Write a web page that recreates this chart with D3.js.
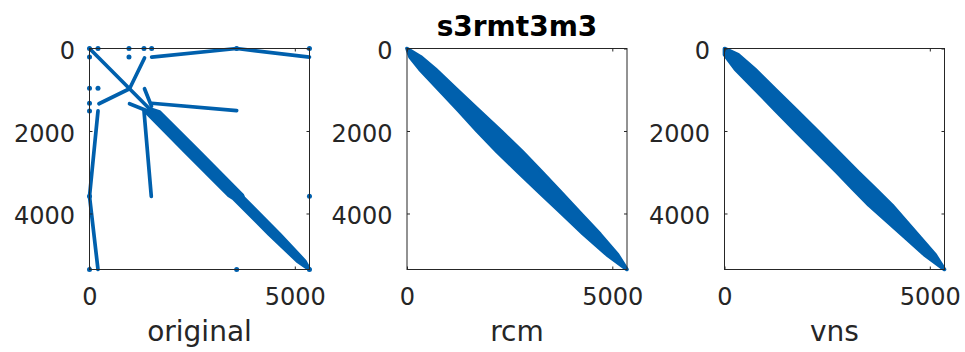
<!DOCTYPE html>
<html><head><meta charset="utf-8">
<script src="https://cdn.jsdelivr.net/npm/d3@7"></script>
<style>
body{margin:0;background:#fff}
svg{display:block}
</style>
</head><body>
<svg id="c" width="965" height="352"></svg>
<script>
// ---------------- data ----------------
const matrixName = "s3rmt3m3";
const matrixSize = 5357;
const panelNames = ["original", "rcm", "vns"];
const xTickValues = [0, 5000];
const yTickValues = [0, 2000, 4000];

// original ordering: main diagonal band (row, half-width in columns)
const origBandRows = [0, 1460, 1540, 2500, 3560, 3620, 4500, 5150, 5357];
const origBandHalf = [0, 0, 165, 170, 165, 130, 125, 90, 0];
// original ordering: off-diagonal strands as polylines of [row, col]
const origLines = [
  [[230, 1340], [975, 975], [1340, 230]],
  [[207, 1514], [0, 3584], [207, 5357]],
  [[1514, 207], [3584, 0], [5357, 207]],
  [[1327, 1514], [1505, 3584]],
  [[1514, 1327], [3584, 1505]],
  [[1340, 975], [1510, 1400]],
  [[975, 1340], [1400, 1510]]
];
// original ordering: isolated nonzero clusters [row, col]
const origDots = [
  [0, 0], [0, 207], [207, 0], [0, 962], [962, 0], [0, 1327], [1327, 0],
  [0, 1514], [1514, 0], [207, 962], [962, 207], [0, 3584], [3584, 0],
  [0, 5357], [5357, 0], [3584, 5357], [5357, 3584], [5357, 5357]
];

// rcm ordering: band profile (row, half-width in columns)
const rcmBandRows = [0, 200, 500, 1000, 1500, 2000, 2500, 3000, 3500, 4000, 4500, 5000, 5357];
const rcmBandHalf = [0, 130, 190, 220, 250, 290, 305, 290, 260, 230, 200, 130, 0];

// vns ordering: band profile (row, half-width in columns)
const vnsBandRows = [0, 150, 500, 1000, 1500, 2000, 2500, 3000, 3400, 3800, 4200, 4600, 5000, 5357];
const vnsBandHalf = [0, 180, 235, 245, 255, 265, 260, 260, 275, 280, 230, 180, 130, 0];

// ---------------- drawing ----------------
const svg = d3.select("#c");
svg.append("rect").attr("width", 965).attr("height", 352).attr("fill", "#fff");

const markColor = "#0060ad";
const axisColor = "#262626";
const fontFam = "'DejaVu Sans', sans-serif";
const lefts = [89.5, 407, 724.5];
const topY = 48.5, pw = 220, ph = 221;
const markW = 3.7;

const bands = [
  {rows: origBandRows, half: origBandHalf},
  {rows: rcmBandRows, half: rcmBandHalf},
  {rows: vnsBandRows, half: vnsBandHalf}
];

panelNames.forEach((name, i) => {
  const left = lefts[i];
  const x = d3.scaleLinear().domain([0, matrixSize + 1]).range([left, left + pw]);
  const y = d3.scaleLinear().domain([0, matrixSize + 1]).range([topY, topY + ph]);
  const g = svg.append("g");

  // band
  const b = bands[i];
  const upper = b.rows.map((r, k) => [x(Math.min(matrixSize, r + b.half[k])), y(r)]);
  const lower = b.rows.map((r, k) => [x(Math.max(0, r - b.half[k])), y(r)]).reverse();
  g.append("path")
    .attr("d", d3.line()(upper.concat(lower)) + "Z")
    .attr("fill", markColor)
    .attr("stroke", markColor)
    .attr("stroke-width", markW)
    .attr("stroke-linejoin", "round");

  if (i === 0) {
    const line = d3.line().x(d => x(d[1])).y(d => y(d[0]));
    g.selectAll("path.strand").data(origLines).join("path")
      .attr("class", "strand")
      .attr("d", line)
      .attr("fill", "none")
      .attr("stroke", markColor)
      .attr("stroke-width", markW)
      .attr("stroke-linecap", "round")
      .attr("stroke-linejoin", "round");
    g.selectAll("circle.dot").data(origDots).join("circle")
      .attr("class", "dot")
      .attr("cx", d => x(d[1]))
      .attr("cy", d => y(d[0]))
      .attr("r", 2.5)
      .attr("fill", markColor);
  }

  // box
  g.append("rect")
    .attr("x", left).attr("y", topY).attr("width", pw).attr("height", ph)
    .attr("fill", "none").attr("stroke", axisColor).attr("stroke-width", 1);

  const styleAxis = sel => {
    sel.select(".domain").remove();
    sel.selectAll(".tick line").attr("stroke", axisColor).attr("stroke-width", 1);
    sel.selectAll("text").attr("fill", axisColor).attr("font-family", fontFam).attr("font-size", 24);
  };

  g.append("g").attr("transform", `translate(0,${topY + ph})`)
    .call(d3.axisBottom(x).tickValues(xTickValues).tickSizeInner(-3).tickSizeOuter(0).tickPadding(18.5).tickFormat(d3.format("d")))
    .call(styleAxis);
  const ay = g.append("g").attr("transform", `translate(${left},0)`)
    .call(d3.axisLeft(y).tickValues(yTickValues).tickSizeInner(-3).tickSizeOuter(0).tickPadding(14.5).tickFormat(d3.format("d")))
    .call(styleAxis);
  ay.selectAll("text").attr("dy", "0.42em");
  g.append("g").attr("transform", `translate(0,${topY})`)
    .call(d3.axisTop(x).tickValues(xTickValues).tickSizeInner(-3).tickSizeOuter(0).tickFormat(""))
    .call(styleAxis);
  g.append("g").attr("transform", `translate(${left + pw},0)`)
    .call(d3.axisRight(y).tickValues(yTickValues).tickSizeInner(-3).tickSizeOuter(0).tickFormat(""))
    .call(styleAxis);

  // x label
  svg.append("text")
    .attr("x", left + pw / 2).attr("y", 341)
    .attr("text-anchor", "middle")
    .attr("font-family", fontFam).attr("font-size", 28)
    .attr("fill", axisColor)
    .text(name);

  if (i === 1) {
    svg.append("text")
      .attr("x", left + pw / 2).attr("y", 36)
      .attr("text-anchor", "middle")
      .attr("font-family", fontFam).attr("font-size", 28).attr("font-weight", "bold")
      .attr("fill", "#000")
      .text(matrixName);
  }
});
</script>
</body></html>
